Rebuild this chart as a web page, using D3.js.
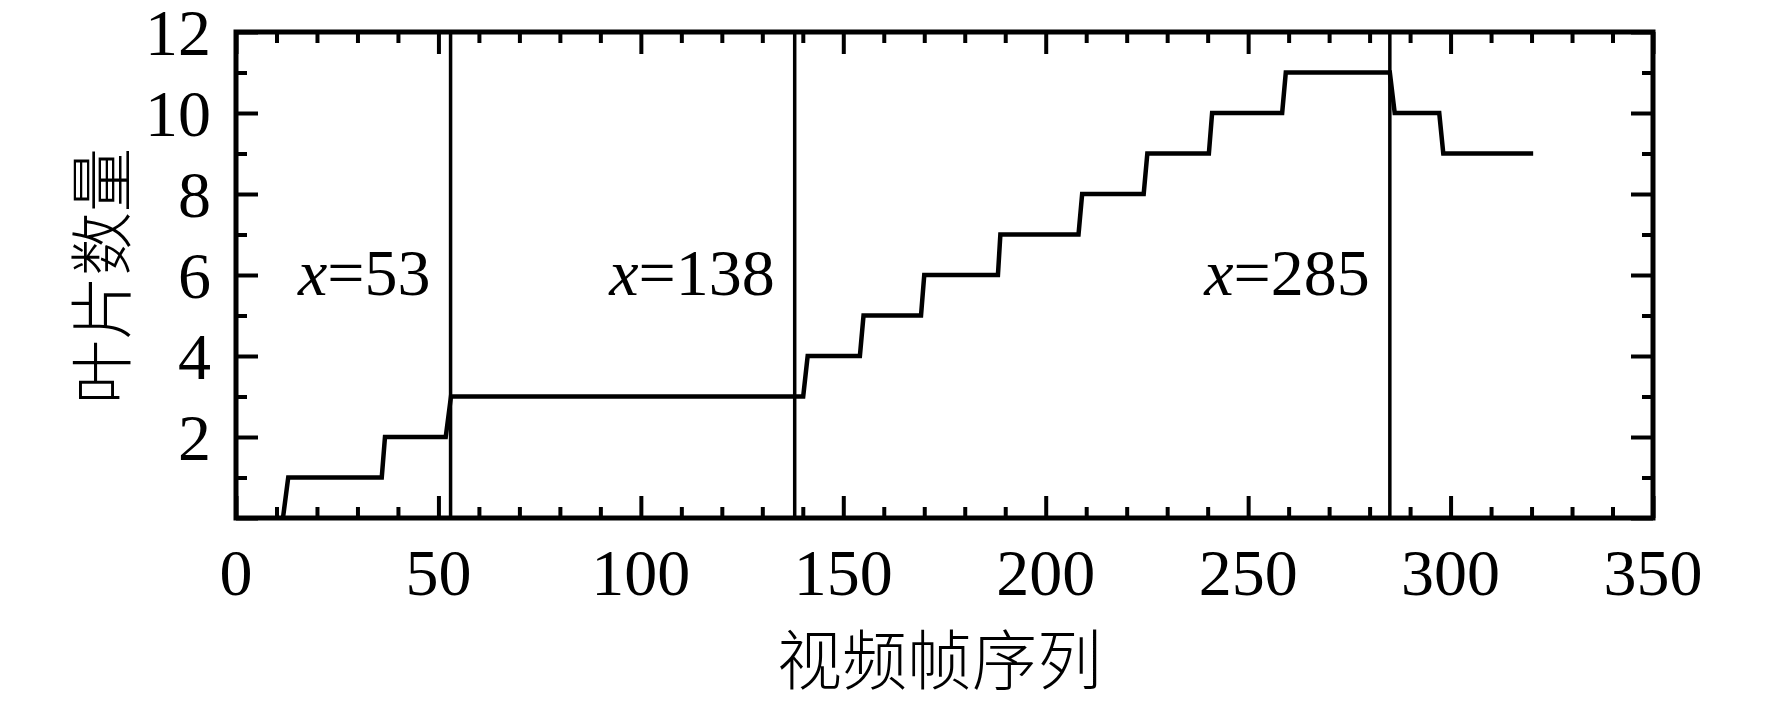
<!DOCTYPE html>
<html>
<head>
<meta charset="utf-8">
<script src="https://cdn.jsdelivr.net/npm/d3@7"></script>
<style>
  html, body { margin: 0; padding: 0; background: #fff; }
  svg { display: block; }
</style>
</head>
<body>
<svg id="chart" width="1772" height="703"></svg>
<script>
// ---- data ----
const frameIdx   = [11.6, 12.9, 36.0, 36.8, 51.8, 53.1, 140.1, 141.2, 154.1, 155.0, 169.2, 170.0, 188.2, 188.8, 208.1, 209.0, 224.2, 225.1, 240.3, 241.1, 258.4, 259.3, 285.0, 286.2, 297.2, 298.2, 320.4];
const leafCount  = [0,    1,    1,    2,    2,    3,    3,     4,     4,     5,     5,     6,     6,     7,     7,     8,     8,     9,     9,     10,    10,    11,    11,    10,    10,    9,     9];
const markerX    = [53, 138, 285];
const markerText = ["53", "138", "285"];
const xMajor = [0, 50, 100, 150, 200, 250, 300, 350];
const yMajor = [0, 2, 4, 6, 8, 10, 12];
const yLabels = [2, 4, 6, 8, 10, 12];
const xTitle = "视频帧序列";
const yTitle = "叶片数量";

// ---- layout ----
const L = 236, R = 1653, T = 32, B = 518;
const svg = d3.select("#chart");
const x = d3.scaleLinear().domain([0, 350]).range([L, R]);
const y = d3.scaleLinear().domain([0, 12]).range([B, T]);

const xMinor = d3.range(0, 351, 10).filter(v => v % 50 !== 0);
const yMinor = d3.range(1, 12, 2);

const numFont = "'Liberation Serif', 'Times New Roman', serif";
const cjkFont = "'Noto Sans CJK SC', sans-serif";

function tickGroup(axisFn, values, size) {
  const g = svg.append("g").call(axisFn.tickValues(values).tickSize(size).tickFormat(""));
  g.select(".domain").remove();
  g.selectAll(".tick line").attr("stroke", "#000").attr("stroke-width", 4);
  return g;
}

// bottom
tickGroup(d3.axisBottom(x), xMajor, -22).attr("transform", `translate(0,${B})`);
tickGroup(d3.axisBottom(x), xMinor, -11).attr("transform", `translate(0,${B})`);
// top
tickGroup(d3.axisTop(x), xMajor, -22).attr("transform", `translate(0,${T})`);
tickGroup(d3.axisTop(x), xMinor, -11).attr("transform", `translate(0,${T})`);
// left
tickGroup(d3.axisLeft(y), yMajor, -22).attr("transform", `translate(${L},0)`);
tickGroup(d3.axisLeft(y), yMinor, -11).attr("transform", `translate(${L},0)`);
// right
tickGroup(d3.axisRight(y), yMajor, -22).attr("transform", `translate(${R},0)`);
tickGroup(d3.axisRight(y), yMinor, -11).attr("transform", `translate(${R},0)`);

// tick labels
svg.append("g").selectAll("text").data(xMajor).join("text")
  .attr("x", d => x(d)).attr("y", 595)
  .attr("text-anchor", "middle")
  .attr("font-family", numFont).attr("font-size", 66)
  .text(d => d);

svg.append("g").selectAll("text").data(yLabels).join("text")
  .attr("x", L - 25).attr("y", d => y(d))
  .attr("text-anchor", "end").attr("dominant-baseline", "central")
  .attr("font-family", numFont).attr("font-size", 66)
  .text(d => d);

// marker lines
svg.append("g").selectAll("line").data(markerX).join("line")
  .attr("x1", d => x(d)).attr("x2", d => x(d))
  .attr("y1", T).attr("y2", B)
  .attr("stroke", "#000").attr("stroke-width", 3.5);

// marker labels
const ann = svg.append("g").selectAll("text").data(markerX).join("text")
  .attr("x", d => x(d) - 20).attr("y", 295)
  .attr("text-anchor", "end")
  .attr("font-family", numFont).attr("font-size", 66);
ann.append("tspan").attr("font-style", "italic").text("x");
ann.append("tspan").text((d, i) => "=" + markerText[i]);

// step line
const pts = frameIdx.map((f, i) => [f, leafCount[i]]);
svg.append("path")
  .datum(pts)
  .attr("fill", "none").attr("stroke", "#000").attr("stroke-width", 4.5)
  .attr("stroke-linejoin", "miter")
  .attr("d", d3.line().x(d => x(d[0])).y(d => y(d[1])));

// frame
svg.append("rect")
  .attr("x", L).attr("y", T).attr("width", R - L).attr("height", B - T)
  .attr("fill", "none").attr("stroke", "#000").attr("stroke-width", 5);

// axis titles
svg.append("text")
  .attr("x", (L + R) / 2 - 5).attr("y", 656)
  .attr("text-anchor", "middle").attr("dominant-baseline", "central")
  .attr("font-family", cjkFont).attr("font-size", 65).attr("font-weight", 300)
  .text(xTitle);

svg.append("text")
  .attr("transform", "translate(97,276) rotate(-90)")
  .attr("text-anchor", "middle").attr("dominant-baseline", "central")
  .attr("font-family", cjkFont).attr("font-size", 64).attr("font-weight", 300)
  .text(yTitle);
</script>
</body>
</html>
